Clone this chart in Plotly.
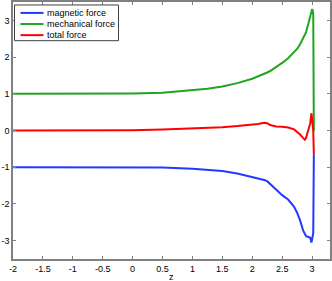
import plotly.graph_objects as go

z = [-2, -1.5, -1, -0.5, 0, 0.5, 1, 1.25, 1.5, 1.75, 2, 2.1, 2.2, 2.25, 2.3, 2.4, 2.5,
     2.6, 2.7, 2.75, 2.8, 2.85, 2.88, 2.9, 2.94, 2.97, 2.99, 3.0, 3.01, 3.02, 3.03]
magnetic = [-1.0, -1.0, -1.0, -1.0, -1.0, -1.01, -1.04, -1.06, -1.1, -1.17, -1.26, -1.31,
            -1.35, -1.38, -1.46, -1.62, -1.76, -1.88, -2.08, -2.24, -2.45, -2.72, -2.85,
            -2.88, -2.9, -2.92, -3.05, -2.95, -2.88, -2.8, -0.65]
mechanical = [1.0, 1.0, 1.0, 1.0, 1.01, 1.03, 1.1, 1.14, 1.2, 1.29, 1.41, 1.47, 1.54,
              1.58, 1.62, 1.72, 1.84, 1.97, 2.12, 2.22, 2.35, 2.5, 2.6, 2.68, 2.92,
              3.1, 3.25, 3.3, 3.28, 3.15, 0.0]
total = [0.0, 0.0, 0.0, 0.0, 0.01, 0.03, 0.05, 0.07, 0.09, 0.12, 0.15, 0.18, 0.21, 0.2,
         0.15, 0.11, 0.1, 0.08, 0.03, -0.03, -0.11, -0.2, -0.25, -0.2, 0.05, 0.2, 0.47,
         0.35, 0.2, 0.0, -0.65]

names = ["magnetic force", "mechanical force", "total force"]
colors = ["#2239ff", "#1fa51f", "#ff0000"]
values = [magnetic, mechanical, total]

xticks = [-2, -1.5, -1, -0.5, 0, 0.5, 1, 1.5, 2, 2.5, 3]
xticklabels = ["-2", "-1.5", "-1", "-0.5", "0", "0.5", "1", "1.5", "2", "2.5", "3"]
yticks = [-3, -2, -1, 0, 1, 2, 3]
yticklabels = ["-3", "-2", "-1", "0", "1", "2", "3"]

FONT = "Liberation Sans"
W, H = 332, 281
ML, MR, MT, MB = 13, 2, 0, 22
PW, PH = W - ML - MR, H - MT - MB

def px(x):  # pixel -> paper x
    return (x - ML) / PW

def py(y):  # pixel -> paper y
    return 1 - (y - MT) / PH

fig = go.Figure()
for name, vals, col in zip(names, values, colors):
    fig.add_trace(go.Scatter(x=z, y=vals, mode="lines", name=name,
                             line=dict(color=col, width=2), showlegend=False))

axis_common = dict(showline=True, linecolor="#808080", linewidth=1.5, mirror="ticks",
                   ticks="inside", ticklen=3, tickcolor="#808080", showgrid=False,
                   zeroline=False, tickfont=dict(family=FONT, size=9, color="black"))
fig.update_xaxes(range=[-2, 3.3], tickvals=xticks, ticktext=xticklabels, **axis_common)
fig.update_yaxes(range=[-3.5, 3.5], tickvals=yticks, ticktext=yticklabels, **axis_common)

# compact legend box (matching the original layout)
shapes = [dict(type="rect", xref="paper", yref="paper",
               x0=px(14.5), x1=px(118.5), y0=py(39), y1=py(3),
               line=dict(color="#404040", width=1), fillcolor="white", layer="above")]
annotations = []
for i, (name, col) in enumerate(zip(names, colors)):
    yy = 11 + i * 11.2
    shapes.append(dict(type="line", xref="paper", yref="paper",
                       x0=px(20.5), x1=px(43.5), y0=py(yy), y1=py(yy),
                       line=dict(color=col, width=2), layer="above"))
    annotations.append(dict(xref="paper", yref="paper", x=px(44.5), y=py(yy),
                            xanchor="left", yanchor="middle", text=name, showarrow=False,
                            font=dict(family=FONT, size=9, color="black")))
annotations.append(dict(xref="paper", yref="paper", x=0.5, y=py(277),
                        xanchor="center", yanchor="middle", text="z", showarrow=False,
                        borderpad=0, font=dict(family=FONT, size=9, color="black")))

fig.update_layout(
    width=W, height=H,
    margin=dict(l=ML, r=MR, t=MT, b=MB),
    paper_bgcolor="white", plot_bgcolor="white",
    font=dict(family=FONT, size=9, color="black"),
    showlegend=False,
    shapes=shapes, annotations=annotations,
)
fig.write_html("out.html", config={"displayModeBar": False},
               post_script="document.body.style.margin='0';document.body.style.padding='0';")
